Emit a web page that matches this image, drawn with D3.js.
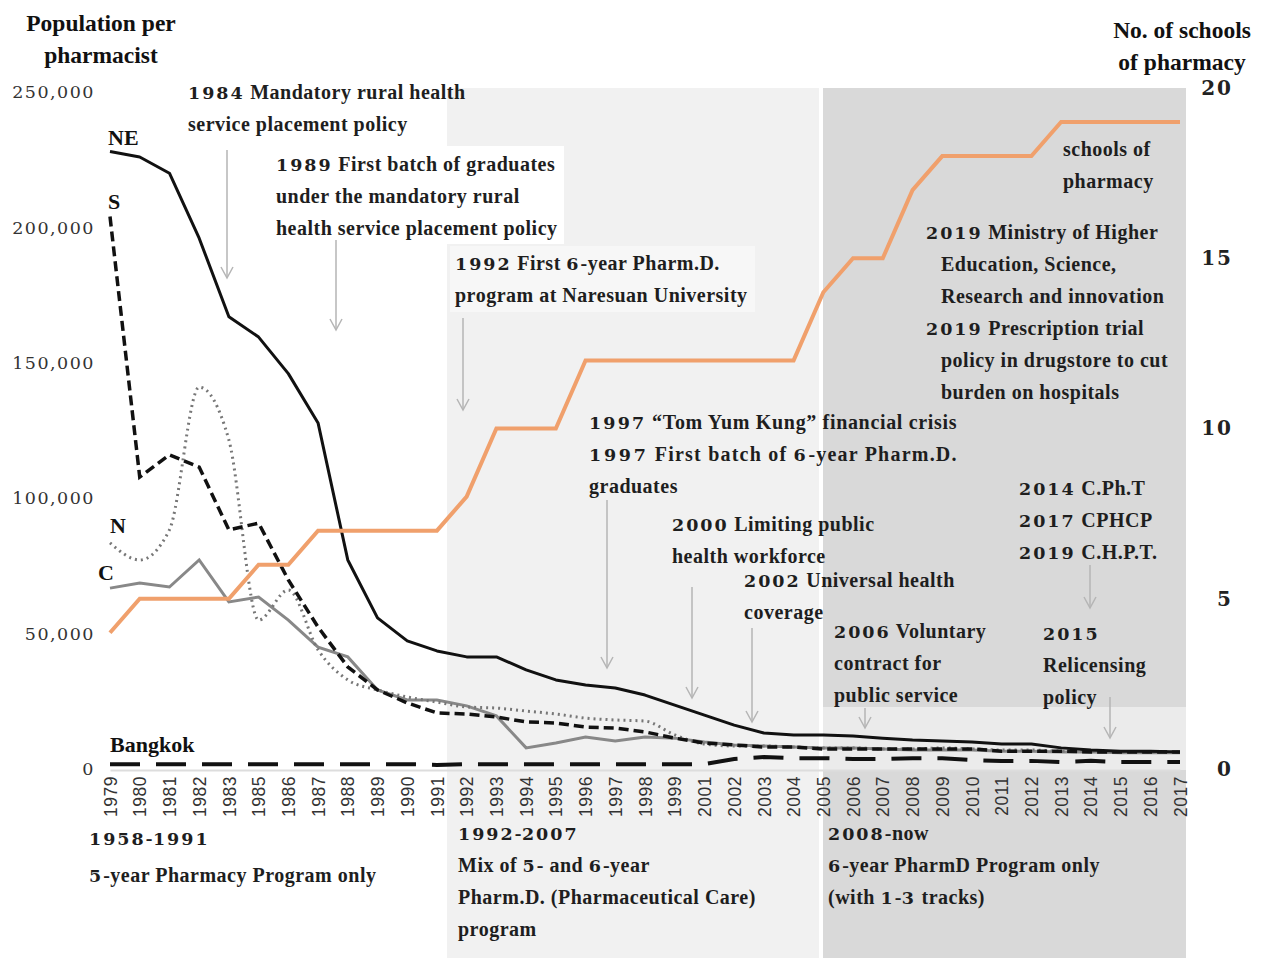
<!DOCTYPE html>
<html>
<head>
<meta charset="utf-8">
<script src="https://cdn.jsdelivr.net/npm/d3@7"></script>
<style>
  body { margin: 0; background: #fff; }
  svg text { fill: #1e1e1e; }
  .lbl { font-family: "Liberation Serif", serif; font-weight: bold; font-size: 20px; letter-spacing: 0.5px; }
  .num { font-family: "DejaVu Serif", serif; font-weight: bold; font-size: 17.5px; letter-spacing: 2px; }
  .ser { font-family: "Liberation Serif", serif; font-weight: bold; font-size: 22px; fill: #111; }
  .ttl { font-family: "Liberation Serif", serif; font-weight: bold; font-size: 23.5px; fill: #111; }
</style>
</head>
<body>
<script>
// years on the x axis (1984 and 2000 are not in the source table)
var years = ["1979","1980","1981","1982","1983","1985","1986","1987","1988","1989","1990","1991",
  "1992","1993","1994","1995","1996","1997","1998","1999","2001","2002","2003","2004","2005",
  "2006","2007","2008","2009","2010","2011","2012","2013","2014","2015","2016","2017"];

// population per pharmacist, by region
var neValues = [228000,226000,220000,196000,167000,159500,146000,127800,77200,55800,47300,43600,
  41400,41400,36600,32900,31000,29900,27300,23600,19900,16200,13300,12600,12600,
  12200,11400,10700,10300,10000,9200,9200,7800,7000,6600,6600,6300];
var sValues = [204000,107800,116000,111500,88300,90800,69800,52400,37700,29200,24400,20700,
  20300,19200,17400,17000,15500,15100,13700,11400,9600,8900,8100,8100,7400,
  7400,7400,7400,7400,7400,6600,6600,6600,6300,6300,6300,6300];
var nValues = [83500,77200,88300,141000,121500,55000,66100,44000,32900,29200,26600,24700,
  22900,22500,21400,20300,18800,18100,17700,12600,9200,8500,8500,8100,7800,
  7800,7400,7400,7800,7400,7000,7000,6600,6600,6300,6300,6300];
var cValues = [66800,68700,67200,77200,61700,63500,55000,45000,41400,29200,25500,25500,
  23300,19600,7800,9600,11800,10300,11800,11400,10000,8900,8500,8100,7800,
  7800,7400,7000,7000,7000,6600,6600,6300,6300,6000,6000,6000];
var bkkValues = [1800,1800,1800,1800,1800,1800,1800,1800,1800,1800,1800,1500,
  1800,1800,1800,1800,1800,1800,1800,1800,1800,3700,4400,4000,4000,
  3700,3700,4000,4000,3300,3000,3000,2600,3000,2600,2600,2600];

// number of schools of pharmacy
var schools = [4,5,5,5,5,6,6,7,7,7,7,7,8,10,10,10,12,12,12,12,12,12,12,12,14,
  15,15,17,18,18,18,18,19,19,19,19,19];

var leftTicks = [0,50000,100000,150000,200000,250000];
var rightTicks = [0,5,10,15,20];

var width = 1271, height = 958;

var svg = d3.select("body").append("svg")
  .attr("width", width)
  .attr("height", height);

var x = d3.scalePoint().domain(years).range([110, 1180]);
var y = d3.scaleLinear().domain([0, 250000]).range([769, 92]);
var y2 = d3.scaleLinear().domain([0, 20]).range([769, 88]);

// period backgrounds
svg.append("rect").attr("x", 447).attr("y", 88).attr("width", 372).attr("height", 870).attr("fill", "#f1f1f1");
svg.append("rect").attr("x", 823).attr("y", 88).attr("width", 363).attr("height", 870).attr("fill", "#d9d9d9");
svg.append("rect").attr("x", 823).attr("y", 707).attr("width", 363).attr("height", 63).attr("fill", "#ebebeb");
// boxes behind the first annotations
svg.append("rect").attr("x", 270).attr("y", 146).attr("width", 294).attr("height", 98).attr("fill", "#fff");
svg.append("rect").attr("x", 450).attr("y", 246).attr("width", 305).attr("height", 66).attr("fill", "#f7f7f7");

// x axis
var xAxis = svg.append("g")
  .attr("transform", "translate(0,770)")
  .call(d3.axisBottom(x).tickSize(0));
xAxis.select(".domain").attr("stroke", "#ddd").attr("stroke-width", 2);
xAxis.selectAll("text")
  .attr("x", -6).attr("y", 0).attr("dy", "0.35em")
  .attr("transform", "rotate(-90)")
  .style("text-anchor", "end")
  .style("font-family", "'Liberation Sans', Arial, sans-serif")
  .style("font-size", "17.5px")
  .style("letter-spacing", "0.5px")
  .style("fill", "#333");

// left axis
var yAxis = svg.append("g")
  .attr("transform", "translate(95,0)")
  .call(d3.axisLeft(y).tickValues(leftTicks).tickFormat(d3.format(",")).tickSize(0).tickPadding(0));
yAxis.select(".domain").remove();
yAxis.selectAll("text")
  .style("font-family", "'DejaVu Serif', serif")
  .style("font-size", "17.5px")
  .style("letter-spacing", "1.5px")
  .style("fill", "#333");

// right axis
var y2Axis = svg.append("g")
  .attr("transform", "translate(1233,0)")
  .call(d3.axisRight(y2).tickValues(rightTicks).tickSize(0).tickPadding(0));
y2Axis.select(".domain").remove();
y2Axis.selectAll("text")
  .style("text-anchor", "end")
  .style("font-family", "'DejaVu Serif', serif")
  .style("font-weight", "bold")
  .style("font-size", "20px")
  .style("letter-spacing", "2px")
  .style("fill", "#222");

// lines
function seriesLine(values, curve) {
  return d3.line()
    .x(function(d, i) { return x(years[i]); })
    .y(function(d) { return y(d); })
    .curve(curve || d3.curveLinear)(values);
}

svg.append("path").attr("d", seriesLine(cValues))
  .attr("fill", "none").attr("stroke", "#888").attr("stroke-width", 3);
svg.append("path").attr("d", seriesLine(nValues, d3.curveMonotoneX))
  .attr("fill", "none").attr("stroke", "#777").attr("stroke-width", 3)
  .attr("stroke-dasharray", "2,4");
svg.append("path").attr("d", seriesLine(bkkValues))
  .attr("fill", "none").attr("stroke", "#111").attr("stroke-width", 4)
  .attr("stroke-dasharray", "30,16");
svg.append("path").attr("d", seriesLine(sValues))
  .attr("fill", "none").attr("stroke", "#111").attr("stroke-width", 3.5)
  .attr("stroke-dasharray", "10,5");
svg.append("path").attr("d", seriesLine(neValues))
  .attr("fill", "none").attr("stroke", "#111").attr("stroke-width", 3)
  .attr("stroke-linejoin", "round");

svg.append("path")
  .attr("d", d3.line()
    .x(function(d, i) { return x(years[i]); })
    .y(function(d) { return y2(d); })(schools))
  .attr("fill", "none").attr("stroke", "#f0a06c").attr("stroke-width", 4);

// series labels
var seriesLabels = [["NE", 108, 145], ["S", 108, 209], ["N", 110, 533], ["C", 98, 580], ["Bangkok", 110, 752]];
svg.selectAll(".slabel").data(seriesLabels).enter().append("text")
  .attr("class", "ser")
  .attr("x", function(d) { return d[1]; })
  .attr("y", function(d) { return d[2]; })
  .text(function(d) { return d[0]; });

// axis titles
svg.append("text").attr("class", "ttl").attr("x", 101).attr("y", 31).attr("text-anchor", "middle").text("Population per");
svg.append("text").attr("class", "ttl").attr("x", 101).attr("y", 63).attr("text-anchor", "middle").text("pharmacist");
svg.append("text").attr("class", "ttl").attr("x", 1182).attr("y", 38).attr("text-anchor", "middle").text("No. of schools");
svg.append("text").attr("class", "ttl").attr("x", 1182).attr("y", 70).attr("text-anchor", "middle").text("of pharmacy");

// arrows
var arrows = [[227,150,278],[336,240,330],[463,318,410],[607,500,668],[692,587,698],
  [752,628,722],[865,708,728],[1090,565,608],[1110,697,738]];
var ag = svg.append("g").attr("stroke", "#b5b5b5").attr("stroke-width", 1.5).attr("fill", "none");
arrows.forEach(function(a) {
  ag.append("line").attr("x1", a[0]).attr("x2", a[0]).attr("y1", a[1]).attr("y2", a[2]);
  ag.append("path").attr("d", "M" + (a[0] - 6) + "," + (a[2] - 11) + "L" + a[0] + "," + a[2] + "L" + (a[0] + 6) + "," + (a[2] - 11));
});

// annotations
var notes = [
  {x: 188, y: 92, lines: ["1984 Mandatory rural health", "service placement policy"]},
  {x: 276, y: 164, lines: ["1989 First batch of graduates", "under the mandatory rural", "health service placement policy"]},
  {x: 455, y: 263, lines: ["1992 First 6-year Pharm.D.", "program at Naresuan University"]},
  {x: 589, y: 422, fit: 368, lines: ["1997 \u201cTom Yum Kung\u201d financial crisis", "1997 First batch of 6-year Pharm.D.", "graduates"]},
  {x: 672, y: 524, lines: ["2000 Limiting public", "health workforce"]},
  {x: 744, y: 580, lines: ["2002 Universal health", "coverage"]},
  {x: 834, y: 631, lines: ["2006 Voluntary", "contract for", "public service"]},
  {x: 1063, y: 149, lines: ["schools of", "pharmacy"]},
  {x: 926, y: 232, indent: 15, lines: ["2019 Ministry of Higher", "Education, Science,", "Research and innovation",
    "2019 Prescription trial", "policy in drugstore to cut", "burden on hospitals"]},
  {x: 1019, y: 488, lines: ["2014 C.Ph.T", "2017 CPHCP", "2019 C.H.P.T."]},
  {x: 1043, y: 633, lines: ["2015", "Relicensing", "policy"]},
  {x: 89, y: 838, lines: ["1958-1991"]},
  {x: 89, y: 875, lines: ["5-year Pharmacy Program only"]},
  {x: 458, y: 833, lines: ["1992-2007", "Mix of 5- and 6-year", "Pharm.D. (Pharmaceutical Care)", "program"]},
  {x: 828, y: 833, lines: ["2008-now", "6-year PharmD Program only", "(with 1-3 tracks)"]}
];

notes.forEach(function(n) {
  n.lines.forEach(function(line, i) {
    var indent = (n.indent && !/^\d/.test(line)) ? n.indent : 0;
    var t = svg.append("text")
      .attr("class", "lbl")
      .attr("x", n.x + indent)
      .attr("y", n.y + i * 32)
      .attr("dy", "0.33em");
    line.split(/(\d+)/).forEach(function(part, j) {
      if (!part) return;
      var s = t.append("tspan").text(part);
      if (j % 2 === 1) s.attr("class", "num");
    });
    if (n.fit && i < 2) t.attr("textLength", n.fit).attr("lengthAdjust", "spacing");
  });
});
</script>
</body>
</html>
